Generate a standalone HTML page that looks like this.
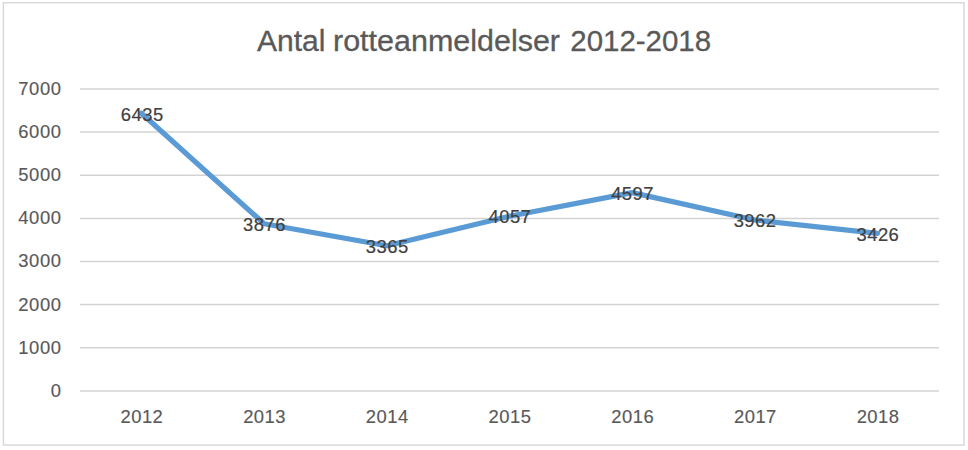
<!DOCTYPE html>
<html><head><meta charset="utf-8">
<style>
html,body{margin:0;padding:0;background:#fff;width:968px;height:450px;overflow:hidden}
svg{display:block}
text{font-family:"Liberation Sans",sans-serif}
</style></head><body>
<svg xmlns="http://www.w3.org/2000/svg" width="968" height="450" viewBox="0 0 968 450">
<rect x="0" y="0" width="968" height="450" fill="#fff"/>
<rect x="3.4" y="2.7" width="960.6" height="442.4" fill="none" stroke="#d9d9d9" stroke-width="1.5"/>
<g font-size="28.6" fill="#595959" stroke="#595959" stroke-width="0.3">
<text x="257" y="50.7" textLength="68.5" lengthAdjust="spacingAndGlyphs">Antal</text>
<text x="333" y="50.7" textLength="227" lengthAdjust="spacingAndGlyphs">rotteanmeldelser</text>
<text x="570.3" y="50.7" textLength="140.8" lengthAdjust="spacingAndGlyphs">2012-2018</text>
</g>
<g stroke="#d3d3d3" stroke-width="1.5">
<line x1="80" y1="88.9" x2="939" y2="88.9"/>
<line x1="80" y1="132.0" x2="939" y2="132.0"/>
<line x1="80" y1="175.2" x2="939" y2="175.2"/>
<line x1="80" y1="218.6" x2="939" y2="218.6"/>
<line x1="80" y1="261.5" x2="939" y2="261.5"/>
<line x1="80" y1="304.6" x2="939" y2="304.6"/>
<line x1="80" y1="347.8" x2="939" y2="347.8"/>
<line x1="80" y1="390.9" x2="939" y2="390.9"/>
</g>
<g font-size="18.4" fill="#595959" stroke="#595959" stroke-width="0.15" text-anchor="end" letter-spacing="0.6">
<text x="61.6" y="94.8">7000</text>
<text x="61.6" y="137.9">6000</text>
<text x="61.6" y="181.1">5000</text>
<text x="61.6" y="224.2">4000</text>
<text x="61.6" y="267.4">3000</text>
<text x="61.6" y="310.5">2000</text>
<text x="61.6" y="353.7">1000</text>
<text x="61.6" y="396.8">0</text>
</g>
<g font-size="18.4" fill="#595959" stroke="#595959" stroke-width="0.15" text-anchor="middle" letter-spacing="0.5">
<text x="141.9" y="423.3">2012</text>
<text x="264.6" y="423.3">2013</text>
<text x="387.3" y="423.3">2014</text>
<text x="510.0" y="423.3">2015</text>
<text x="632.7" y="423.3">2016</text>
<text x="755.4" y="423.3">2017</text>
<text x="878.1" y="423.3">2018</text>
</g>
<polyline fill="none" stroke="#5b9bd5" stroke-width="5.2" stroke-linecap="round" stroke-linejoin="round"
 points="141.4,113.3 264.1,223.7 386.8,245.7 509.5,216.3 632.2,192.6 754.9,220.0 877.6,233.3"/>
<g font-size="18.4" fill="#404040" stroke="#404040" stroke-width="0.2" text-anchor="middle" letter-spacing="0.5">
<text x="142.2" y="120.8">6435</text>
<text x="264.5" y="231.0">3876</text>
<text x="387.2" y="252.9">3365</text>
<text x="509.9" y="222.8">4057</text>
<text x="632.6" y="200">4597</text>
<text x="755.1" y="227.2">3962</text>
<text x="877.9" y="241.1">3426</text>
</g>
</svg>
</body></html>
